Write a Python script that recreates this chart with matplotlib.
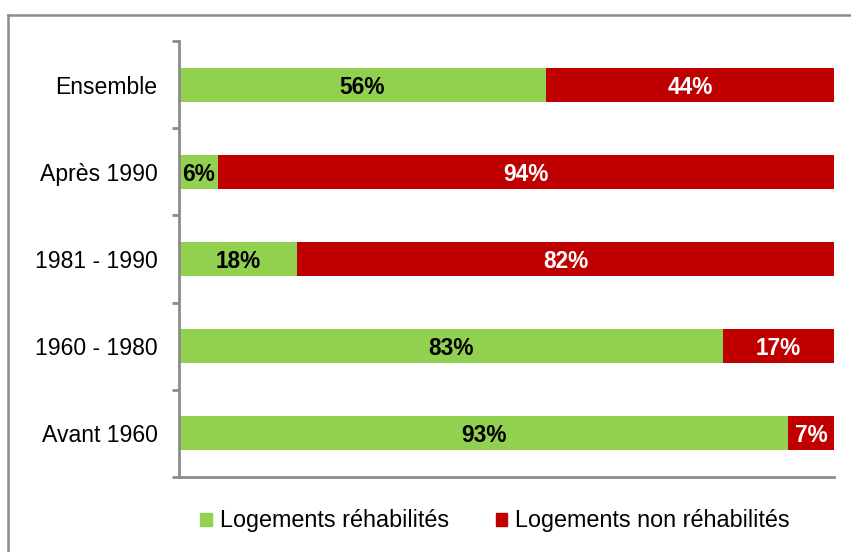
import matplotlib
matplotlib.use("Agg")
import matplotlib.pyplot as plt
from matplotlib.patches import Rectangle
from matplotlib.lines import Line2D

plt.rcParams['font.family'] = ['Liberation Sans', 'DejaVu Sans']

categories = ["Ensemble", "Après 1990", "1981 - 1990", "1960 - 1980", "Avant 1960"]
rehab = [56, 6, 18, 83, 93]
non_rehab = [44, 94, 82, 17, 7]
series_names = ["Logements réhabilités", "Logements non réhabilités"]

green = "#92D050"
red = "#C00000"
grey = "#8C8C8C"

W, H = 851, 552
fig = plt.figure(figsize=(W / 100, H / 100), dpi=100)
ax = fig.add_axes([179 / W, 1 - 477 / H, (834 - 179) / W, (477 - 41) / H])

ypos = list(range(len(categories)))
bh = 0.39
ax.barh(ypos, rehab, height=bh, color=green, edgecolor="none")
ax.barh(ypos, non_rehab, left=rehab, height=bh, color=red, edgecolor="none")

for y, g, r in zip(ypos, rehab, non_rehab):
    ax.text(g / 2, y, f"{g}%", ha="center", va="center_baseline",
            fontsize=16.3, fontweight="bold", color="black")
    ax.text(g + r / 2, y, f"{r}%", ha="center", va="center_baseline",
            fontsize=16.3, fontweight="bold", color="white")

ax.set_xlim(0, 100)
ax.set_ylim(len(categories) - 0.5, -0.5)

ax.set_yticks(ypos)
ax.set_yticklabels(categories, fontsize=16.6)
ax.tick_params(axis="y", which="major", length=0, pad=15.5)
ax.set_yticks([i - 0.5 for i in range(len(categories) + 1)], minor=True)
ax.tick_params(axis="y", which="minor", length=5, width=2.0, color=grey, direction="out")
ax.set_xticks([])

for s in ("top", "right"):
    ax.spines[s].set_visible(False)
for s in ("left", "bottom"):
    ax.spines[s].set_color(grey)
    ax.spines[s].set_linewidth(2.0)

handles = [Rectangle((0, 0), 1, 1, color=green), Rectangle((0, 0), 1, 1, color=red)]
fig.legend(handles, series_names, loc="center", bbox_to_anchor=(495 / W, 1 - 521 / H),
           ncol=2, frameon=False, fontsize=16.8, handlelength=0.5, handleheight=0.5,
           handletextpad=0.35, columnspacing=2.0)

fig.add_artist(Line2D([8 / W, 1.01], [1 - 15 / H, 1 - 15 / H], transform=fig.transFigure,
                      color=grey, linewidth=1.8))
fig.add_artist(Line2D([8 / W, 8 / W], [1 - 15 / H, -0.01], transform=fig.transFigure,
                      color=grey, linewidth=1.8))

fig.savefig("out.png", dpi=100, facecolor="white")
